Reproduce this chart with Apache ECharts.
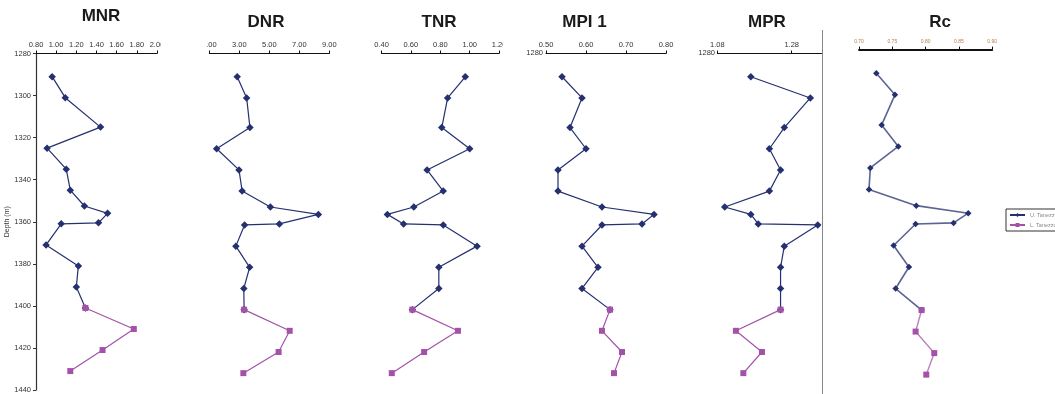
<!DOCTYPE html>
<html>
<head>
<meta charset="utf-8">
<script src="https://cdn.jsdelivr.net/npm/echarts@6/dist/echarts.min.js"></script>
<style>
  html, body { margin: 0; padding: 0; background: #fff; }
  #chart { width: 1055px; height: 394px; }
</style>
</head>
<body>
<div id="chart"></div>
<script>
// Sample depths (m) for the two intervals
const depthUpper = [1291, 1301, 1315, 1325, 1335, 1345, 1352.5, 1356, 1360.5, 1361, 1371, 1381, 1391];
const depthLower = [1401, 1411, 1421, 1431];

// Maturity parameters, upper interval
const mnrUpper = [0.96, 1.09, 1.44, 0.91, 1.10, 1.14, 1.28, 1.51, 1.42, 1.05, 0.90, 1.22, 1.20];
const dnrUpper = [2.86, 3.49, 3.71, 1.49, 2.98, 3.19, 5.07, 8.27, 5.67, 3.35, 2.77, 3.69, 3.30];
const tnrUpper = [0.97, 0.85, 0.81, 1.00, 0.71, 0.82, 0.62, 0.44, 0.55, 0.82, 1.05, 0.79, 0.79];
const mpiUpper = [0.54, 0.59, 0.56, 0.60, 0.53, 0.53, 0.64, 0.77, 0.74, 0.64, 0.59, 0.63, 0.59];
const mprUpper = [1.17, 1.33, 1.26, 1.22, 1.25, 1.22, 1.10, 1.17, 1.19, 1.35, 1.26, 1.25, 1.25];
const rcUpper  = [0.726, 0.754, 0.734, 0.759, 0.717, 0.715, 0.786, 0.864, 0.842, 0.785, 0.752, 0.775, 0.755];

// Maturity parameters, lower interval
const mnrLower = [1.29, 1.77, 1.46, 1.14];
const dnrLower = [3.32, 6.36, 5.62, 3.27];
const tnrLower = [0.61, 0.92, 0.69, 0.47];
const mpiLower = [0.66, 0.64, 0.69, 0.67];
const mprLower = [1.25, 1.13, 1.20, 1.15];
const rcLower  = [0.794, 0.785, 0.813, 0.801];

// Axis ticks
const mnrTicks = [0.80, 1.00, 1.20, 1.40, 1.60, 1.80, 2.00];
const dnrTicks = [1.00, 3.00, 5.00, 7.00, 9.00];
const tnrTicks = [0.40, 0.60, 0.80, 1.00, 1.20];
const mpiTicks = [0.50, 0.60, 0.70, 0.80];
const mprTicks = [1.08, 1.28];
const rcTicks  = [0.70, 0.75, 0.80, 0.85, 0.90];
const depthTicks = [1280, 1300, 1320, 1340, 1360, 1380, 1400, 1420, 1440];

const seriesNames = ['U. Tanezzuft', 'L. Tanezzuft'];
const BLUE = '#24306f';
const PINK = '#a452a8';
const FONT = 'Liberation Sans, Arial, sans-serif';

// Panel layout
const panels = [
  { title: 'MNR',   upper: mnrUpper, lower: mnrLower, ticks: mnrTicks, min: 0.8,  max: 2.0,  left: 36,    width: 121,   tx: 101, ty: 16 },
  { title: 'DNR',   upper: dnrUpper, lower: dnrLower, ticks: dnrTicks, min: 1,    max: 9,    left: 209.3, width: 120,   tx: 266, ty: 22.5 },
  { title: 'TNR',   upper: tnrUpper, lower: tnrLower, ticks: tnrTicks, min: 0.4,  max: 1.2,  left: 381.5, width: 117.6, tx: 439, ty: 22.5 },
  { title: 'MPI 1', upper: mpiUpper, lower: mpiLower, ticks: mpiTicks, min: 0.5,  max: 0.8,  left: 546,   width: 120,   tx: 584.5, ty: 22.5 },
  { title: 'MPR',   upper: mprUpper, lower: mprLower, ticks: mprTicks, min: 1.08, max: 1.36, left: 717.3, width: 104.2, tx: 767, ty: 22 },
  { title: 'Rc',    upper: rcUpper,  lower: rcLower,  ticks: rcTicks,  min: 0.70, max: 0.90, left: 859,   width: 133.2, tx: 940, ty: 22.5, rc: true }
];

const grid = [], xAxis = [], yAxis = [], series = [], graphics = [];

panels.forEach((p, i) => {
  const top = p.rc ? 49.6 : 53.5;
  const height = p.rc ? 345.1 : 338.7;
  grid.push({ left: p.left, top: top, width: p.width, height: height, containLabel: false });

  xAxis.push({
    gridIndex: i, type: 'value', position: 'top',
    min: p.min, max: p.max,
    axisLine: { show: true, onZero: false, lineStyle: { color: '#111', width: p.rc ? 1.8 : 1 } },
    axisTick: { show: true, inside: false, length: 3, customValues: p.ticks, lineStyle: { color: '#111' } },
    axisLabel: {
      show: true, customValues: p.ticks, margin: 5,
      fontSize: p.rc ? 5 : 7.5, fontFamily: FONT,
      color: p.rc ? '#b0804a' : '#333',
      formatter: v => v.toFixed(2)
    },
    splitLine: { show: false }
  });

  const first = i === 0;
  yAxis.push({
    gridIndex: i, type: 'value', inverse: true,
    min: 1280, max: 1440,
    show: first,
    name: first ? 'Depth (m)' : '',
    nameLocation: 'middle', nameGap: 21, nameRotate: 90,
    nameTextStyle: { fontSize: 7, fontFamily: FONT, color: '#333' },
    axisLine: { show: first, onZero: false, lineStyle: { color: '#333', width: 1.2 } },
    axisTick: { show: first, length: 3, customValues: depthTicks, lineStyle: { color: '#333' } },
    axisLabel: { show: first, customValues: depthTicks, fontSize: 7.5, fontFamily: FONT, color: '#333', margin: 5, formatter: v => String(v) },
    splitLine: { show: false }
  });

  const op = p.rc ? 0.75 : 1;
  // Upper interval runs down to the first lower-interval sample
  const upData = depthUpper.map((d, k) => [p.upper[k], d]).concat([[p.lower[0], depthLower[0]]]);
  const loData = depthLower.map((d, k) => [p.lower[k], d]);

  series.push({
    name: seriesNames[0], type: 'line', xAxisIndex: i, yAxisIndex: i,
    data: upData, symbol: 'diamond', symbolSize: p.rc ? 6.5 : 7.5,
    lineStyle: { color: BLUE, width: p.rc ? 1.6 : 1.2, opacity: op },
    itemStyle: { color: BLUE }, clip: false, z: 3
  });
  series.push({
    name: seriesNames[1], type: 'line', xAxisIndex: i, yAxisIndex: i,
    data: loData, symbol: 'rect', symbolSize: 6,
    lineStyle: { color: PINK, width: p.rc ? 1.4 : 1.2, opacity: op },
    itemStyle: { color: PINK }, clip: false, z: 4
  });

  graphics.push({
    type: 'text', x: p.tx, y: p.ty, z: 20,
    style: { text: p.title, fill: '#1a1a1a', font: 'bold 17px ' + FONT, textAlign: 'center', textVerticalAlign: 'middle' }
  });
});

// Neighbouring chart frames hide the ends of some axis labels
graphics.push({ type: 'rect', shape: { x: 161, y: 34, width: 45.5, height: 14 }, style: { fill: '#fff' }, z: 30 });
graphics.push({ type: 'rect', shape: { x: 503, y: 34, width: 12, height: 14 }, style: { fill: '#fff' }, z: 30 });

// Stray depth labels of the stacked panels
graphics.push({ type: 'text', x: 543, y: 53, z: 20, style: { text: '1280', fill: '#333', font: '7.5px ' + FONT, textAlign: 'right', textVerticalAlign: 'middle' } });
graphics.push({ type: 'text', x: 715, y: 53, z: 20, style: { text: '1280', fill: '#333', font: '7.5px ' + FONT, textAlign: 'right', textVerticalAlign: 'middle' } });

// Frame edge of the Rc panel
graphics.push({ type: 'line', shape: { x1: 822.5, y1: 30, x2: 822.5, y2: 394 }, style: { stroke: '#888', lineWidth: 1 }, z: 20 });

const chart = echarts.init(document.getElementById('chart'), null, { renderer: 'canvas' });
chart.setOption({
  animation: false,
  backgroundColor: '#fff',
  grid: grid,
  xAxis: xAxis,
  yAxis: yAxis,
  series: series,
  legend: {
    data: seriesNames, orient: 'vertical',
    left: 1006, top: 209,
    borderColor: '#333', borderWidth: 1,
    padding: [3, 4, 3, 3], itemGap: 4,
    itemWidth: 15, itemHeight: 5,
    textStyle: { fontSize: 5.5, fontFamily: FONT, color: '#888' }
  },
  graphic: graphics
});
</script>
</body>
</html>
